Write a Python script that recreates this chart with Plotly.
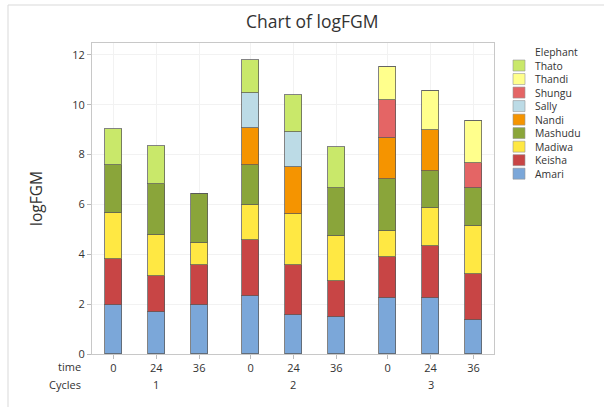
import plotly.graph_objects as go

# ---- data ----
cycles = ["1", "2", "3"]
times = ["0", "24", "36"]
elephants = ["Amari", "Keisha", "Madiwa", "Mashudu", "Nandi", "Sally", "Shungu", "Thandi", "Thato"]
colors = ["#7BA7D9", "#C84545", "#FFE843", "#8AA53A", "#F59400", "#BCDBE6", "#E46565", "#FFFF8C", "#C9E86A"]

# values per bar: cycle1 (0,24,36), cycle2 (0,24,36), cycle3 (0,24,36)
Amari   = [1.98, 1.67, 1.96, 2.31, 1.58, 1.50, 2.23, 2.26, 1.36]
Keisha  = [1.83, 1.47, 1.61, 2.27, 2.00, 1.41, 1.67, 2.08, 1.86]
Madiwa  = [1.86, 1.64, 0.88, 1.38, 2.02, 1.83, 1.02, 1.50, 1.90]
Mashudu = [1.92, 2.05, 1.99, 1.62, 0.00, 1.93, 2.11, 1.50, 1.54]
Nandi   = [0.00, 0.00, 0.00, 1.47, 1.90, 0.00, 1.64, 1.64, 0.00]
Sally   = [0.00, 0.00, 0.00, 1.44, 1.39, 0.00, 0.00, 0.00, 0.00]
Shungu  = [0.00, 0.00, 0.00, 0.00, 0.00, 0.00, 1.53, 0.00, 1.00]
Thandi  = [0.00, 0.00, 0.00, 0.00, 0.00, 0.00, 1.31, 1.59, 1.69]
Thato   = [1.42, 1.51, 0.00, 1.30, 1.52, 1.63, 0.00, 0.00, 0.00]
series = [Amari, Keisha, Madiwa, Mashudu, Nandi, Sally, Shungu, Thandi, Thato]

group_gap = 0.2
xpos = []
xlab = []
for g, c in enumerate(cycles):
    for i, t in enumerate(times):
        xpos.append(g * (len(times) + group_gap) + i)
        xlab.append(t)
cycle_centers = [g * (len(times) + group_gap) + (len(times) - 1) / 2 for g in range(len(cycles))]

fig = go.Figure()
for name, col, vals in zip(elephants, colors, series):
    fig.add_trace(go.Bar(
        x=xpos, y=vals, name=name, width=0.39,
        marker=dict(color=col, line=dict(color="rgba(90,90,90,0.75)", width=1)),
        showlegend=False,
    ))

W, H = 604, 407
ml, mr, mt, mb = 92, 110, 43, 53
pw, ph = W - ml - mr, H - mt - mb

fig.update_layout(
    width=W, height=H, barmode="stack", bargap=0,
    margin=dict(l=ml, r=mr, t=mt, b=mb),
    paper_bgcolor="white", plot_bgcolor="white",
    font=dict(family="Open Sans", size=11, color="#333333"),
    title=dict(text="Chart of logFGM", x=0.517, xanchor="center", y=1 - 22 / H, yanchor="middle",
               font=dict(size=17.5, color="#333333")),
)
fig.update_xaxes(
    range=[-0.5, xpos[-1] + 0.48], tickvals=xpos, ticktext=xlab,
    ticks="outside", ticklen=4, tickcolor="#bbbbbb",
    showgrid=True, gridcolor="#f2f2f2", zeroline=False,
    showline=True, linecolor="#c8c8c8", mirror=True,
    tickfont=dict(size=11, color="#333333"),
)
fig.update_yaxes(
    range=[0, 12.48], tickvals=[0, 2, 4, 6, 8, 10, 12],
    ticks="outside", ticklen=4, tickcolor="#bbbbbb",
    showgrid=True, gridcolor="#f2f2f2", zeroline=False,
    showline=True, linecolor="#c8c8c8", mirror=True,
    title=dict(text="logFGM", font=dict(size=15.5, color="#333333"), standoff=25),
    tickfont=dict(size=11, color="#333333"),
)

anns = []
shapes = []

def px_to_paper_x(px):
    return (px - ml) / pw

def px_to_paper_y(py):
    return (H - mb - py) / ph

anns.append(dict(text="time", xref="paper", yref="paper", x=px_to_paper_x(83), y=px_to_paper_y(366),
                 xanchor="right", yanchor="middle", showarrow=False, font=dict(size=11, color="#333333")))
anns.append(dict(text="Cycles", xref="paper", yref="paper", x=px_to_paper_x(83), y=px_to_paper_y(384),
                 xanchor="right", yanchor="middle", showarrow=False, font=dict(size=11, color="#333333")))
for c, cx in zip(cycles, cycle_centers):
    anns.append(dict(text=c, xref="x", yref="paper", x=cx, y=px_to_paper_y(384),
                     xanchor="center", yanchor="middle", showarrow=False, font=dict(size=11, color="#333333")))

# legend (custom, compact): one multi-line text block plus swatches
leg_font = 10.4
step = 1.3 * leg_font
leg_x_sw = 513
leg_x_txt = 533
leg_top = 52
legend_names = list(reversed(elephants))
legend_cols = list(reversed(colors))
legend_text = "<br>".join(["Elephant"] + legend_names)
n_lines = len(legend_names) + 1
block_center = leg_top + step * (n_lines - 1) / 2
anns.append(dict(text=legend_text, xref="paper", yref="paper", x=px_to_paper_x(leg_x_txt),
                 y=px_to_paper_y(block_center), xanchor="left", yanchor="middle", align="left",
                 showarrow=False, font=dict(size=leg_font, color="#333333")))
for k, col in enumerate(legend_cols):
    cy = leg_top + step * (k + 1)
    shapes.append(dict(type="rect", xref="paper", yref="paper",
                       x0=px_to_paper_x(leg_x_sw), x1=px_to_paper_x(leg_x_sw + 12),
                       y0=px_to_paper_y(cy - 5.5), y1=px_to_paper_y(cy + 5.5),
                       fillcolor=col, line=dict(color="rgba(150,150,150,0.6)", width=1)))

# outer frame lines (top and left)
shapes.append(dict(type="line", xref="paper", yref="paper",
                   x0=px_to_paper_x(8), x1=px_to_paper_x(604), y0=px_to_paper_y(5), y1=px_to_paper_y(5),
                   line=dict(color="#d9d9d9", width=1)))
shapes.append(dict(type="line", xref="paper", yref="paper",
                   x0=px_to_paper_x(8), x1=px_to_paper_x(8), y0=px_to_paper_y(5), y1=px_to_paper_y(407),
                   line=dict(color="#d9d9d9", width=1)))

fig.update_layout(annotations=anns, shapes=shapes)
fig.write_html("out.html", config={"displayModeBar": False},
               post_script="document.body.style.margin='0px';document.body.style.padding='0px';")
